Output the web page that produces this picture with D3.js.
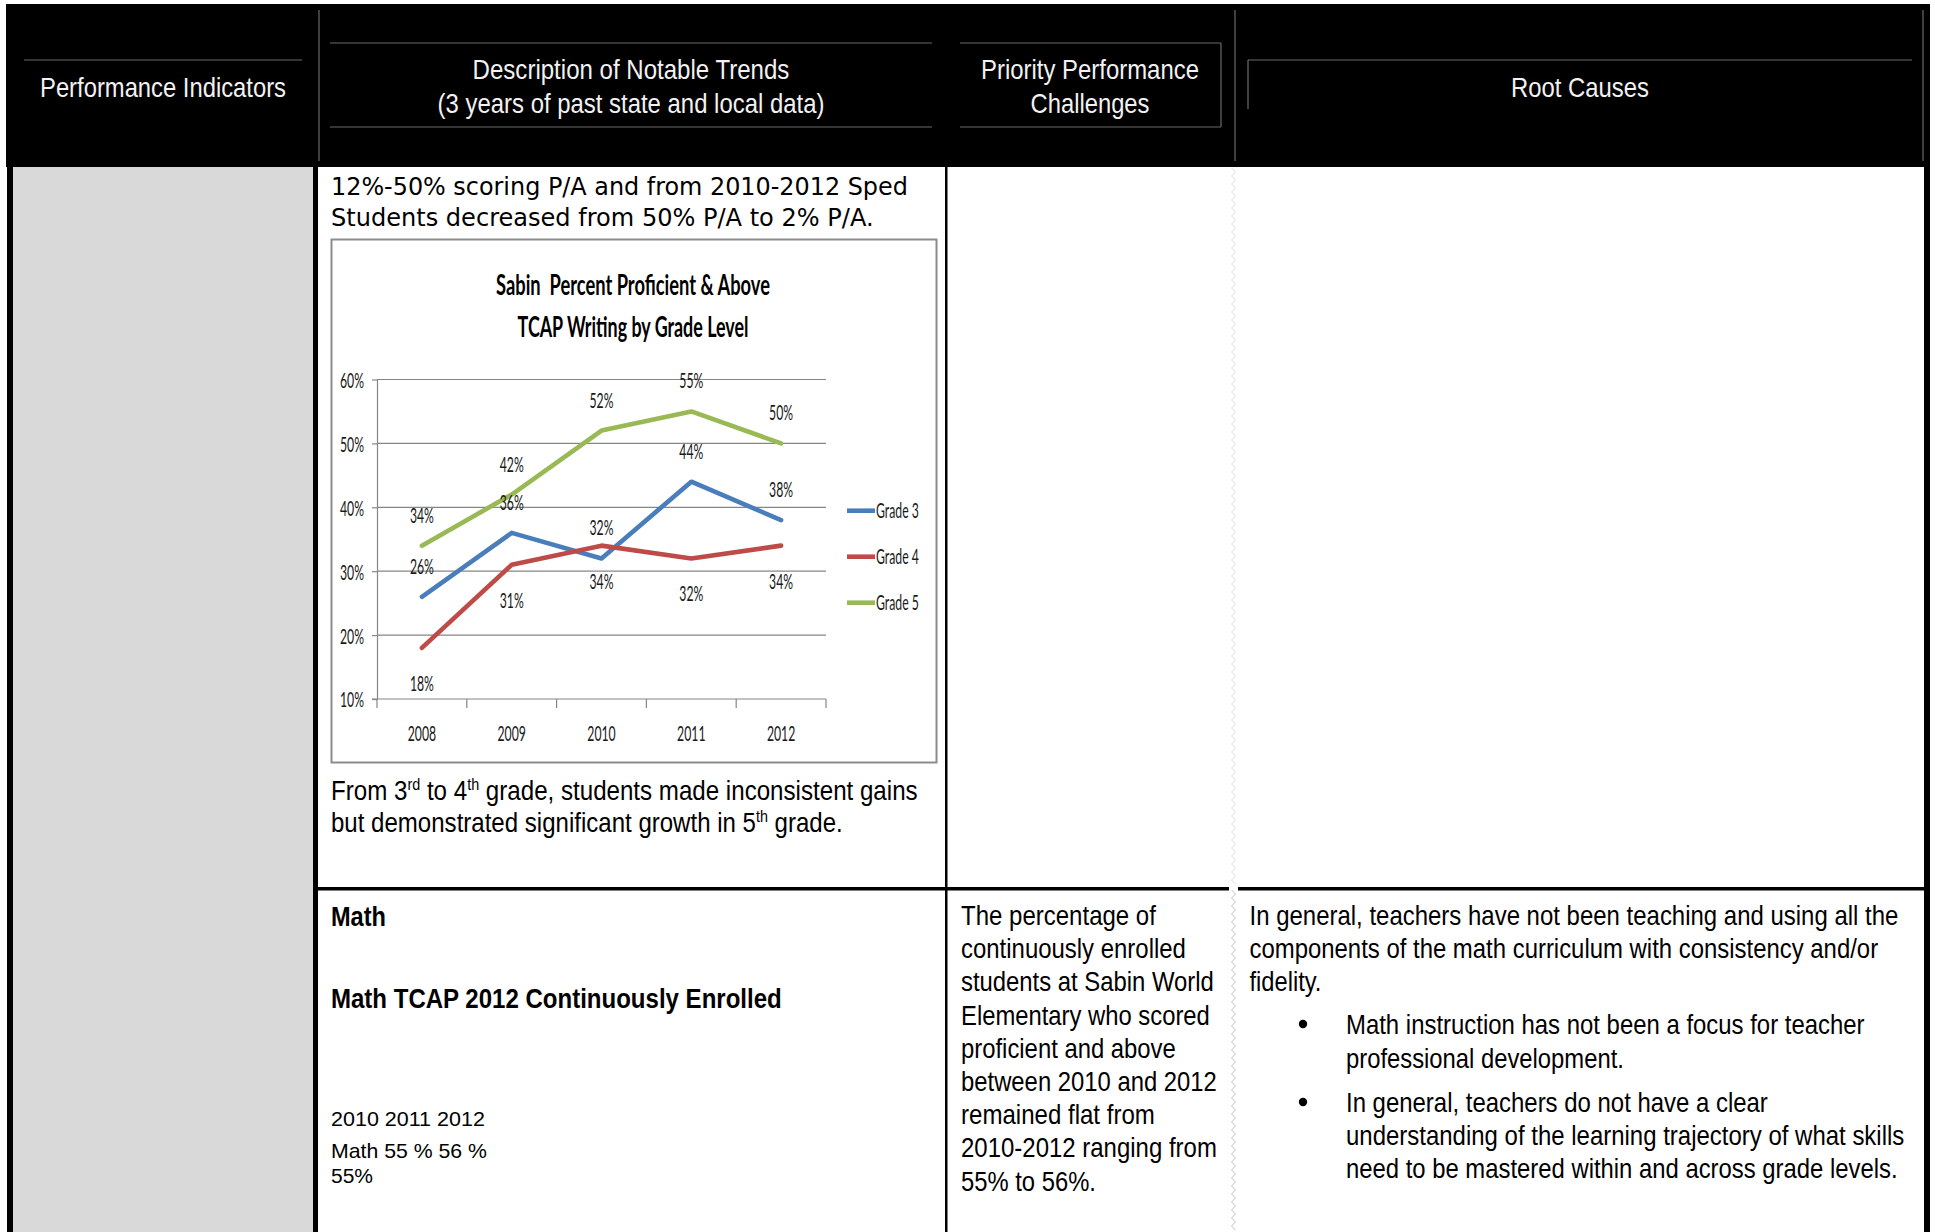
<!DOCTYPE html>
<html>
<head>
<meta charset="utf-8">
<script src="https://cdn.jsdelivr.net/npm/d3@7"></script>
<style>
  html, body { margin: 0; padding: 0; background: #fff; overflow: hidden; }
  svg { display: block; }
</style>
</head>
<body>
<script>
// ---- TCAP Writing: percent proficient & above, by grade level ----
const years = ["2008", "2009", "2010", "2011", "2012"];
const grade3 = [26, 36, 32, 44, 38];
const grade4 = [18, 31, 34, 32, 34];
const grade5 = [34, 42, 52, 55, 50];
const seriesNames = ["Grade 3", "Grade 4", "Grade 5"];
const yTicks = [10, 20, 30, 40, 50, 60];
const chartTitle = ["Sabin  Percent Proficient & Above", "TCAP Writing by Grade Level"];

// ---- Math TCAP 2012, continuously enrolled ----
const mathYears = ["2010", "2011", "2012"];
const mathValues = ["55 %", "56 %", "55%"];

// ---- Table text ----
const headerPI = "Performance Indicators";
const headerTrends = ["Description of Notable Trends", "(3 years of past state and local data)"];
const headerPriority = ["Priority Performance", "Challenges"];
const headerRoot = "Root Causes";
const introLines = ["12%-50% scoring P/A and from 2010-2012 Sped", "Students decreased from 50% P/A to 2% P/A."];
const priorityLines = [
  "The percentage of", "continuously enrolled", "students at Sabin World",
  "Elementary who scored", "proficient and above", "between 2010 and 2012",
  "remained flat from", "2010-2012 ranging from", "55% to 56%."
];
const rootLines = [
  "In general, teachers have not been teaching and using all the",
  "components of the math curriculum with consistency and/or",
  "fidelity."
];
const rootBullets = [
  ["Math instruction has not been a focus for teacher", "professional development."],
  ["In general, teachers do not have a clear",
   "understanding of the learning trajectory of what skills",
   "need to be mastered within and across grade levels."]
];

// ---- drawing ----
const W = 1935, H = 1232;
const NARROW = "'Liberation Sans Narrow','Arial Narrow','Liberation Sans',Arial,sans-serif";
const ARIAL = "'Liberation Sans',Arial,sans-serif";
const WIDE = "'DejaVu Sans',Verdana,sans-serif";
const CHART = "Lato,'Open Sans',sans-serif";

const svg = d3.select("body").append("svg").attr("width", W).attr("height", H);
svg.append("rect").attr("width", W).attr("height", H).attr("fill", "#fff");

// narrow a text horizontally about its own anchor, either to a width or by a factor
function narrow(node, k) {
  const s = d3.select(node);
  const x0 = +s.attr("x") || 0, y0 = +s.attr("y") || 0;
  s.attr("x", 0).attr("y", 0).attr("transform", `translate(${x0},${y0}) scale(${k},1)`);
}
function fit(sel, w) {
  sel.each(function () { narrow(this, w / this.getComputedTextLength()); });
  return sel;
}
function squeeze(sel, k) {
  sel.each(function () { narrow(this, k); });
  return sel;
}

// table frame
svg.append("rect").attr("x", 6).attr("y", 4).attr("width", 1924).attr("height", 163).attr("fill", "#000");
svg.append("rect").attr("x", 7).attr("y", 167).attr("width", 6).attr("height", H - 167).attr("fill", "#000");
svg.append("rect").attr("x", 13).attr("y", 167).attr("width", 300).attr("height", H - 167).attr("fill", "#d9d9d9");
svg.append("rect").attr("x", 313).attr("y", 167).attr("width", 5).attr("height", H - 167).attr("fill", "#000");
svg.append("rect").attr("x", 945).attr("y", 167).attr("width", 2.5).attr("height", H - 167).attr("fill", "#000");
svg.append("rect").attr("x", 1924).attr("y", 167).attr("width", 6).attr("height", H - 167).attr("fill", "#000");
svg.append("rect").attr("x", 318).attr("y", 887).attr("width", 911).attr("height", 3.5).attr("fill", "#000");
svg.append("rect").attr("x", 1238).attr("y", 887).attr("width", 686).attr("height", 3.5).attr("fill", "#000");

// wavy cell edge between the last two columns
function zigzag(y0, y1) {
  const pts = [];
  for (let yy = y0, i = 0; yy <= y1; yy += 4, i++) pts.push([i % 2 ? 1235.5 : 1231.5, yy]);
  return d3.line()(pts);
}
svg.append("path").attr("d", zigzag(168, 886)).attr("fill", "none").attr("stroke", "#dcdcdc").attr("stroke-width", 1);
svg.append("path").attr("d", zigzag(890, H)).attr("fill", "none").attr("stroke", "#c0c0c0").attr("stroke-width", 1);

// header rules
const hdr = svg.append("g").attr("stroke", "#6a6a6a").attr("stroke-width", 1.2).attr("fill", "none");
[
  [24, 60, 302, 60], [319, 10, 319, 161],
  [330, 43, 932, 43], [330, 127, 932, 127],
  [960, 43, 1221, 43], [960, 127, 1221, 127], [1221, 43, 1221, 127],
  [1235, 10, 1235, 161],
  [1248, 60, 1912, 60], [1248, 60, 1248, 109],
  [1923, 10, 1923, 161]
].forEach(l => hdr.append("line").attr("x1", l[0]).attr("y1", l[1]).attr("x2", l[2]).attr("y2", l[3]));

// header captions
const headTxt = (t, cx, by, w) => fit(svg.append("text").attr("x", cx).attr("y", by)
  .attr("text-anchor", "middle").attr("font-family", NARROW).attr("font-size", 28.5)
  .attr("fill", "#f2f2f2").text(t), w);
headTxt(headerPI, 163, 96.5, 246);
headTxt(headerTrends[0], 631, 79, 317);
headTxt(headerTrends[1], 631, 113, 387);
headTxt(headerPriority[0], 1090, 79, 218);
headTxt(headerPriority[1], 1090, 113, 119);
headTxt(headerRoot, 1580, 96.5, 138);

// intro lines above the chart
const introW = [577, 543];
introLines.forEach((t, i) => fit(svg.append("text").attr("x", 331).attr("y", 195 + i * 31)
  .attr("font-family", WIDE).attr("font-size", 24).attr("fill", "#000").text(t), introW[i]));

// ---- line chart ----
svg.append("rect").attr("x", 331.5).attr("y", 239.5).attr("width", 605).attr("height", 523)
  .attr("fill", "#fff").attr("stroke", "#8c8c8c").attr("stroke-width", 2);

const chart = svg.append("g");
const plot = { x0: 377, x1: 826, top: 379.5, bot: 699 };
const x = d3.scaleBand().domain(years).range([plot.x0, plot.x1]);
const y = d3.scaleLinear().domain([10, 60]).range([plot.bot, plot.top]);
const color = d3.scaleOrdinal().domain(seriesNames).range(["#4a7ebb", "#be4b48", "#98b954"]);
const series = [grade3, grade4, grade5].map((vals, i) => ({
  name: seriesNames[i], points: vals.map((v, j) => ({ year: years[j], v }))
}));
const FS = 22;

// compression factor so the chart lettering matches its narrow face
const probe = chart.append("text").attr("font-family", CHART).attr("font-size", FS).text("2008");
const K = 28.4 / probe.node().getComputedTextLength();
probe.remove();

// title
const titleW = [274, 231];
chartTitle.forEach((t, i) => fit(chart.append("text").attr("x", 633).attr("y", 294.5 + i * 42.5)
  .attr("text-anchor", "middle").attr("font-family", CHART).attr("font-weight", 700)
  .style("white-space", "pre")
  .attr("font-size", 29).attr("fill", "#000").text(t), titleW[i]));

// gridlines
chart.append("g").selectAll("line").data(yTicks.filter(d => d > 10)).join("line")
  .attr("x1", plot.x0).attr("x2", plot.x1).attr("y1", d => y(d)).attr("y2", d => y(d))
  .attr("stroke", "#868686").attr("stroke-width", 1.2);

// y axis
const yAxis = chart.append("g").attr("transform", `translate(${plot.x0},0)`)
  .call(d3.axisLeft(y).tickValues(yTicks).tickFormat(d => d + "%").tickSizeInner(5).tickSizeOuter(0).tickPadding(8));
yAxis.select(".domain").attr("stroke", "#868686").attr("stroke-width", 1.2);
yAxis.selectAll(".tick line").attr("stroke", "#868686").attr("stroke-width", 1.2);
yAxis.selectAll("text").attr("font-family", CHART).attr("font-size", FS).attr("fill", "#1a1a1a").attr("dy", "0.36em");
squeeze(yAxis.selectAll("text"), K);

// x axis
const xAxis = chart.append("g").attr("transform", `translate(0,${plot.bot})`)
  .call(d3.axisBottom(x).tickSize(0).tickPadding(26));
xAxis.select(".domain").attr("stroke", "#868686").attr("stroke-width", 1.2)
  .attr("d", `M${plot.x0 - 5},0H${plot.x1}`);
xAxis.selectAll("text").attr("font-family", CHART).attr("font-size", FS).attr("fill", "#1a1a1a");
squeeze(xAxis.selectAll("text"), K);
const bounds = years.map(d => x(d)).concat([plot.x1]);
xAxis.append("g").selectAll("line").data(bounds).join("line")
  .attr("x1", d => d).attr("x2", d => d).attr("y1", 0).attr("y2", 9)
  .attr("stroke", "#868686").attr("stroke-width", 1.2);

// series lines
const line = d3.line().x(d => x(d.year) + x.bandwidth() / 2).y(d => y(d.v));
chart.append("g").selectAll("path").data(series).join("path")
  .attr("d", d => line(d.points)).attr("fill", "none")
  .attr("stroke", d => color(d.name)).attr("stroke-width", 4.6)
  .attr("stroke-linejoin", "round").attr("stroke-linecap", "round");

// data labels: Grade 4 sits below its line, the others above
const labels = chart.append("g");
series.forEach(s => {
  const below = s.name === "Grade 4";
  const sel = labels.selectAll(null).data(s.points).join("text")
    .attr("x", d => x(d.year) + x.bandwidth() / 2)
    .attr("y", d => y(d.v) + (below ? 43 : -23))
    .attr("text-anchor", "middle").attr("font-family", CHART).attr("font-size", FS)
    .attr("fill", "#1a1a1a").text(d => d.v + "%");
  squeeze(sel, K);
});

// legend
const legend = chart.append("g").selectAll("g").data(seriesNames).join("g")
  .attr("transform", (d, i) => `translate(847,${510.7 + i * 46})`);
legend.append("line").attr("x1", 0).attr("x2", 28).attr("stroke", d => color(d)).attr("stroke-width", 4.6);
const legText = legend.append("text").attr("x", 29).attr("y", 7.5).attr("font-family", CHART)
  .attr("font-size", FS).attr("fill", "#1a1a1a").text(d => d);
squeeze(legText, K);

// notes below the chart
const body = svg.append("g").attr("font-family", NARROW).attr("font-size", 28.5).attr("fill", "#000");
function supLine(parts, by, w) {
  const t = body.append("text").attr("x", 331).attr("y", by);
  parts.forEach(p => {
    if (p.sup) t.append("tspan").attr("font-size", 17).attr("dy", -10).text(p.t);
    else t.append("tspan").attr("dy", p.after ? 10 : 0).text(p.t);
  });
  fit(t, w);
}
supLine([{ t: "From 3" }, { t: "rd", sup: true }, { t: " to 4", after: true }, { t: "th", sup: true },
  { t: " grade, students made inconsistent gains", after: true }], 799.5, 587);
supLine([{ t: "but demonstrated significant growth in 5" }, { t: "th", sup: true },
  { t: " grade.", after: true }], 832, 512);

// Math row
fit(body.append("text").attr("x", 331).attr("y", 926).attr("font-weight", 700).attr("font-size", 27).text("Math"), 55);
fit(body.append("text").attr("x", 331).attr("y", 1008).attr("font-weight", 700).attr("font-size", 27)
  .text("Math TCAP 2012 Continuously Enrolled"), 451);
const small = svg.append("g").attr("font-family", ARIAL).attr("font-size", 21).attr("fill", "#000");
fit(small.append("text").attr("x", 331).attr("y", 1126).text(mathYears.join(" ")), 154);
fit(small.append("text").attr("x", 331).attr("y", 1158).text("Math " + mathValues.slice(0, 2).join(" ")), 156);
fit(small.append("text").attr("x", 331).attr("y", 1182.5).text(mathValues[2]), 42);

// Priority Performance Challenges column
const prioW = [195, 225, 253, 249, 215, 256, 194, 256, 135];
priorityLines.forEach((t, i) => fit(body.append("text").attr("x", 961).attr("y", 925 + i * 33.2).text(t), prioW[i]));

// Root Causes column
const rootW = [649, 629, 72];
rootLines.forEach((t, i) => fit(body.append("text").attr("x", 1249.5).attr("y", 925 + i * 33.2).text(t), rootW[i]));
const bulletY = [[1034, 1068], [1112, 1145, 1178]];
const bulletW = [[519, 278], [422, 558.5, 552]];
rootBullets.forEach((lines, b) => {
  body.append("circle").attr("cx", 1303).attr("cy", bulletY[b][0] - 10).attr("r", 4.2).attr("fill", "#000");
  lines.forEach((t, i) => fit(body.append("text").attr("x", 1346).attr("y", bulletY[b][i]).text(t), bulletW[b][i]));
});
</script>
</body>
</html>
